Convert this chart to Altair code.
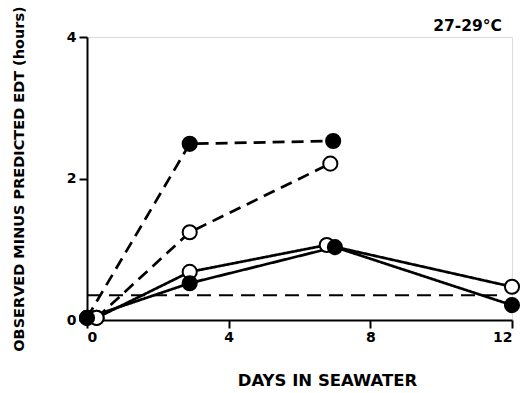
import altair as alt
import pandas as pd

# Filled circles, dashed line
days_fd = [0.0, 2.9, 6.95]
vals_fd = [0.03, 2.49, 2.53]
# Open circles, dashed line
days_od = [0.27, 2.9, 6.87]
vals_od = [0.03, 1.24, 2.21]
# Open circles, solid line
days_os = [0.27, 2.9, 6.77, 12.0]
vals_os = [0.03, 0.68, 1.06, 0.47]
# Filled circles, solid line
days_fs = [0.0, 2.9, 7.0, 12.0]
vals_fs = [0.03, 0.52, 1.03, 0.21]
# Horizontal dashed reference
ref_days = [0.0, 11.8]
ref_vals = [0.35, 0.35]

x_ticks = [0, 4, 8, 12]
y_ticks = [0, 2, 4]
temp_label = ["27-29°C"]

rows = []
for name, dd, vv, fill, dash in [
    ("fd", days_fd, vals_fd, "black", "dash"),
    ("od", days_od, vals_od, "white", "dash"),
    ("os", days_os, vals_os, "white", "solid"),
    ("fs", days_fs, vals_fs, "black", "solid"),
]:
    for d, v in zip(dd, vv):
        rows.append({"series": name, "day": d, "val": v, "fill": fill, "dash": dash})
df = pd.DataFrame(rows)
ref = pd.DataFrame({"day": ref_days, "val": ref_vals})
lab = pd.DataFrame({"label": temp_label})

FONT = "DejaVu Sans"

xs = alt.Scale(domain=[0, 12], nice=False)
ys = alt.Scale(domain=[0, 4], nice=False)

xax = alt.Axis(values=x_ticks, title="DAYS IN SEAWATER", grid=False, format="d",
               labelFont=FONT, labelFontSize=14, labelFontWeight="bold", labelColor="black",
               titleFont=FONT, titleFontSize=16.5, titleFontWeight="bold", titleColor="black",
               domainColor="black", domainWidth=2, tickColor="black", tickWidth=2, tickSize=8,
               labelPadding=2, titlePadding=28, titleX=240)
yax = alt.Axis(values=y_ticks, title="OBSERVED MINUS PREDICTED EDT (hours)", grid=False, format="d",
               labelFont=FONT, labelFontSize=14, labelFontWeight="bold", labelColor="black",
               titleFont=FONT, titleFontSize=14.5, titleFontWeight="bold", titleColor="black",
               domainColor="black", domainWidth=2, tickColor="black", tickWidth=2, tickSize=8,
               labelPadding=3, titlePadding=40)

base = alt.Chart(df)

lines = base.mark_line(color="black", strokeWidth=2.7).encode(
    x=alt.X("day:Q", scale=xs, axis=xax),
    y=alt.Y("val:Q", scale=ys, axis=yax),
    detail="series:N",
    strokeDash=alt.StrokeDash("dash:N", scale=alt.Scale(domain=["dash", "solid"], range=[[12, 7], [1, 0]]), legend=None),
)

reflayer = alt.Chart(ref).mark_line(color="black", strokeWidth=2, strokeDash=[14, 8]).encode(
    x=alt.X("day:Q", scale=xs),
    y=alt.Y("val:Q", scale=ys),
)

points = base.mark_point(shape="circle", filled=False, size=200, strokeWidth=2, stroke="black", opacity=1).encode(
    x=alt.X("day:Q", scale=xs),
    y=alt.Y("val:Q", scale=ys),
    fill=alt.Fill("fill:N", scale=None),
)

annot = alt.Chart(lab).mark_text(font=FONT, fontSize=15.5, fontWeight="bold", color="black",
                                 align="right", baseline="middle").encode(
    text="label:N",
    x=alt.value(415),
    y=alt.value(-11),
)

chart = alt.layer(reflayer, lines, points, annot).properties(
    width=425, height=283,
    autosize=alt.AutoSizeParams(type="none"),
    padding={"left": 87, "top": 37, "right": 14, "bottom": 73},
).configure_view(stroke=None).configure(background="white")

chart.save("out.html", embed_options={"renderer": "svg", "actions": False})
